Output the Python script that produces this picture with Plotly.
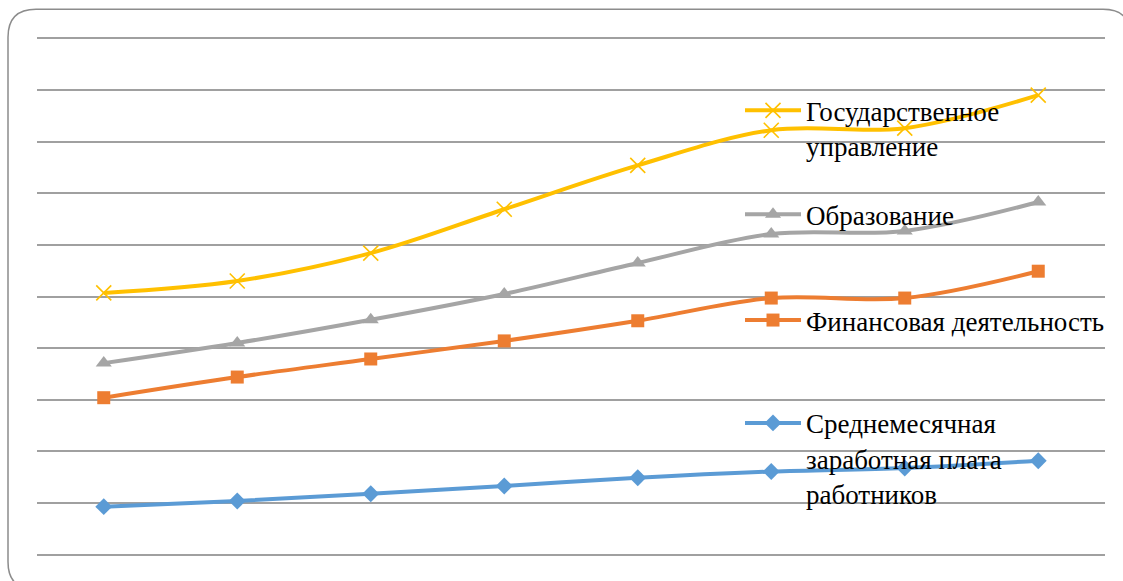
import plotly.graph_objects as go

categories = ["1", "2", "3", "4", "5", "6", "7", "8"]
gov_admin = [5.07, 5.30, 5.84, 6.69, 7.54, 8.22, 8.26, 8.90]
education = [3.71, 4.10, 4.55, 5.05, 5.65, 6.21, 6.27, 6.83]
finance = [3.04, 3.44, 3.79, 4.14, 4.53, 4.97, 4.97, 5.49]
avg_wage = [0.93, 1.04, 1.18, 1.33, 1.49, 1.61, 1.68, 1.82]

names = ["Государственное<br>управление", "Образование",
         "Финансовая деятельность", "Среднемесячная<br>заработная плата<br>работников"]

W, H = 1123, 581
L, R = 37, 1105
UNIT = (555 - 38) / 10.0
PADV = 0.2
T = 38 - PADV * UNIT
B = 555 + PADV * UNIT

def px(x):
    return (x - L) / (R - L)

def py(y):
    return (B - y) / (B - T)

fig = go.Figure()

series = [
    (gov_admin, names[0], "#FFC000", dict(symbol="x-thin", size=15, line=dict(color="#FFC000", width=1.6)), "legend"),
    (education, names[1], "#A5A5A5", dict(symbol="triangle-up", size=14), "legend2"),
    (finance, names[2], "#ED7D31", dict(symbol="square", size=13), "legend3"),
    (avg_wage, names[3], "#5B9BD5", dict(symbol="diamond", size=13), "legend4"),
]

for vals, name, color, marker, lg in series:
    m = dict(color=color)
    m.update(marker)
    fig.add_trace(go.Scatter(
        x=categories, y=vals, name=name, mode="lines+markers",
        line=dict(color=color, width=4, shape="spline", smoothing=1),
        marker=m, legend=lg,
    ))

# rounded frame around the chart
x0, y0, x1, y1, r = 8, 9, 1131, 590, 28
path = (f"M{px(x0)},{py(y0 + r)} L{px(x0)},{py(y1 - r)} Q{px(x0)},{py(y1)} {px(x0 + r)},{py(y1)} "
        f"L{px(x1 - r)},{py(y1)} Q{px(x1)},{py(y1)} {px(x1)},{py(y1 - r)} "
        f"L{px(x1)},{py(y0 + r)} Q{px(x1)},{py(y0)} {px(x1 - r)},{py(y0)} "
        f"L{px(x0 + r)},{py(y0)} Q{px(x0)},{py(y0)} {px(x0)},{py(y0 + r)} Z")
fig.add_shape(type="path", xref="paper", yref="paper", path=path,
              line=dict(color="#8C8C8C", width=1.5), layer="below")

legend_font = dict(family="Liberation Serif", size=27, color="#000000")
def legend_at(xp, yp):
    return dict(x=px(xp), y=py(yp), xanchor="left", yanchor="top",
                bgcolor="rgba(0,0,0,0)", font=legend_font, valign="top",
                itemwidth=56, borderwidth=0, tracegroupgap=0)

fig.update_layout(
    width=W, height=H,
    margin=dict(l=L, r=W - R, t=T, b=H - B, pad=0),
    paper_bgcolor="white", plot_bgcolor="white",
    showlegend=True,
    legend=legend_at(740, 86),
    legend2=legend_at(740, 190),
    legend3=legend_at(740, 296),
    legend4=legend_at(740, 399),
    xaxis=dict(type="category", range=[-0.5, 7.5], showticklabels=False,
               showgrid=False, zeroline=False, showline=False, ticks=""),
    yaxis=dict(range=[-PADV, 10 + PADV], dtick=1, tick0=0, showticklabels=False,
               showgrid=True, gridcolor="#A0A0A0", gridwidth=1.5,
               zeroline=False, showline=False, ticks=""),
)

fig.write_html("out.html", config={"displayModeBar": False},
               post_script="document.body.style.margin='0';document.body.style.padding='0';")
